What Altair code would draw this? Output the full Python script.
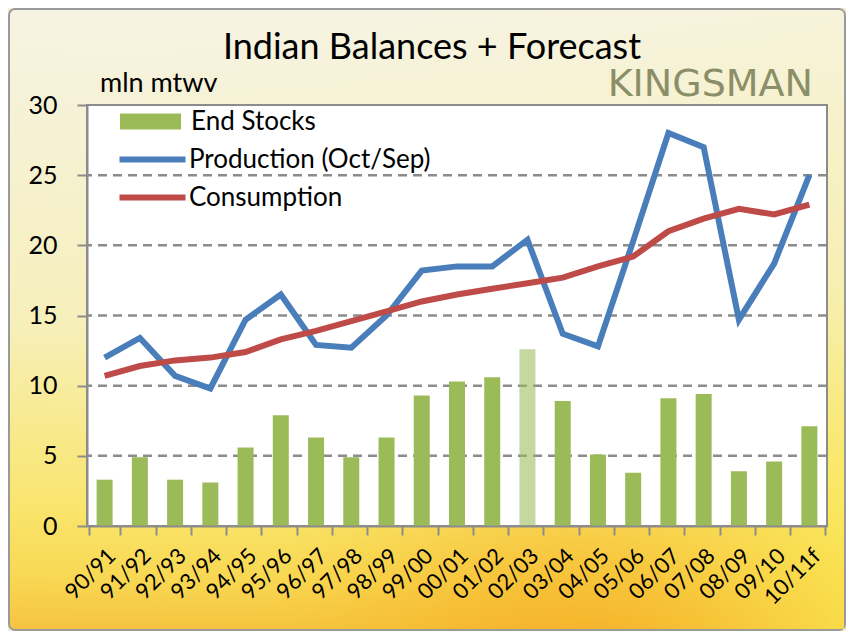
import altair as alt
import pandas as pd

seasons = ["90/91", "91/92", "92/93", "93/94", "94/95", "95/96", "96/97", "97/98",
           "98/99", "99/00", "00/01", "01/02", "02/03", "03/04", "04/05", "05/06",
           "06/07", "07/08", "08/09", "09/10", "10/11f"]
end_stocks = [3.3, 4.9, 3.3, 3.1, 5.6, 7.9, 6.3, 4.9, 6.3, 9.3, 10.3, 10.6, 12.6,
              8.9, 5.1, 3.8, 9.1, 9.4, 3.9, 4.6, 7.1]
production = [12.0, 13.4, 10.7, 9.8, 14.7, 16.5, 12.9, 12.7, 15.0, 18.2, 18.5, 18.5,
              20.4, 13.7, 12.8, 20.3, 28.0, 27.0, 14.7, 18.7, 25.0]
consumption = [10.7, 11.4, 11.8, 12.0, 12.4, 13.3, 13.9, 14.6, 15.3, 16.0, 16.5, 16.9,
               17.3, 17.7, 18.5, 19.2, 21.0, 21.9, 22.6, 22.2, 22.9]
bar_series = ["End Stocks"]
bar_colors = ["#9bbb59"]
line_series = ["Production (Oct/Sep)", "Consumption"]
line_colors = ["#4a7ebb", "#be4b48"]
highlight_season = "02/03"
y_ticks = [0, 5, 10, 15, 20, 25, 30]
grid_values = [5, 10, 15, 20, 25]

W, H = 740, 421
PL, PT, PR, PB = 79, 97, 19, 105

bars_df = pd.DataFrame({"season": seasons, "value": end_stocks, "series": bar_series[0]})
lines_df = pd.concat([
    pd.DataFrame({"season": seasons, "value": production, "series": line_series[0]}),
    pd.DataFrame({"season": seasons, "value": consumption, "series": line_series[1]}),
])
grid_df = pd.DataFrame({"g": grid_values})

FONT = "Lato"
GRAY = "#8c8c8c"

yscale = alt.Scale(domain=[0, 30], nice=False, zero=True)

xaxis = alt.Axis(title=None, labelAngle=-45, labelFontSize=22, labelFont=FONT,
                 labelColor="black", tickBand="extent", tickSize=9, tickWidth=2,
                 tickColor=GRAY, domainColor=GRAY, domainWidth=2, labelPadding=10,
                 zindex=1, grid=False)
yaxis = alt.Axis(title=None, values=y_ticks, labelFontSize=25, labelFont=FONT,
                 labelColor="black", tickSize=10, tickWidth=2, tickColor=GRAY,
                 domainColor=GRAY, domainWidth=2, labelPadding=20, zindex=1, grid=False)

common_leg = dict(title=None, orient="none", labelFontSize=26,
                  labelFont=FONT, labelColor="black", labelLimit=500)
bar_legend = alt.Legend(legendX=30, legendY=-17, labelOffset=7, symbolSize=4400,
                        symbolType="M-0.92,-0.24H0.92V0.24H-0.92Z",
                        symbolStrokeWidth=0, **common_leg)
line_legend = alt.Legend(legendX=46, legendY=35, labelOffset=17, symbolSize=1089,
                         symbolType="M-2,0H2", rowPadding=5,
                         symbolStrokeWidth=6, **common_leg)

bg_vertical = alt.Gradient(
    gradient="linear", x1=0, y1=0, x2=0, y2=1,
    stops=[
        alt.GradientStop(offset=0, color="#f6f3e3"),
        alt.GradientStop(offset=0.5, color="#f6efbb"),
        alt.GradientStop(offset=0.8, color="#f9e468"),
        alt.GradientStop(offset=0.92, color="#f8d44a"),
        alt.GradientStop(offset=1, color="#f5bd36"),
    ],
)
bg_side = alt.Gradient(
    gradient="linear", x1=0, y1=0, x2=1, y2=1,
    stops=[
        alt.GradientStop(offset=0, color="rgba(255,255,255,0)"),
        alt.GradientStop(offset=0.7, color="rgba(250,236,110,0.15)"),
        alt.GradientStop(offset=1, color="rgba(250,232,80,0.8)"),
    ],
)
bg_sun = alt.Gradient(
    gradient="radial", x1=0.68, y1=1.0, x2=0.68, y2=1.0, r1=0, r2=0.42,
    stops=[
        alt.GradientStop(offset=0, color="rgba(243,150,20,0.85)"),
        alt.GradientStop(offset=0.5, color="rgba(245,170,30,0.45)"),
        alt.GradientStop(offset=1, color="rgba(248,200,60,0)"),
    ],
)

one = alt.Data(values=[{}])

background = alt.Chart(one).mark_rect(
    clip=False, fill=bg_vertical, stroke="#9a9a9a", strokeWidth=2, cornerRadius=6
).encode(x=alt.value(-PL + 1), x2=alt.value(W + PR - 1),
         y=alt.value(-PT + 1), y2=alt.value(H + PB - 1))

side_glow = alt.Chart(one).mark_rect(clip=False, fill=bg_side).encode(
    x=alt.value(-PL + 2), x2=alt.value(W + PR - 2),
    y=alt.value(-PT + 2), y2=alt.value(H + PB - 2))

sun_glow = alt.Chart(one).mark_rect(clip=False, fill=bg_sun).encode(
    x=alt.value(-PL + 2), x2=alt.value(W + PR - 2),
    y=alt.value(-PT + 2), y2=alt.value(H + PB - 2))

plot_bg = alt.Chart(one).mark_rect(fill="white", stroke=GRAY, strokeWidth=2).encode(
    x=alt.value(0), x2=alt.value(W), y=alt.value(0), y2=alt.value(H))

grid = alt.Chart(grid_df).mark_rule(color=GRAY, strokeWidth=2.5, strokeDash=[9, 6]).encode(
    y=alt.Y("g:Q", scale=yscale, axis=yaxis))

bars = alt.Chart(bars_df).mark_bar(size=16).encode(
    x=alt.X("season:N", sort=seasons, axis=xaxis),
    y=alt.Y("value:Q", scale=yscale, axis=yaxis),
    fill=alt.Fill("series:N", scale=alt.Scale(domain=bar_series, range=bar_colors),
                  legend=bar_legend),
    opacity=alt.condition(alt.datum.season == highlight_season, alt.value(0.58), alt.value(1.0)),
)

lines = alt.Chart(lines_df).mark_line(strokeWidth=6, strokeJoin="miter").encode(
    x=alt.X("season:N", sort=seasons),
    y=alt.Y("value:Q", scale=yscale),
    stroke=alt.Stroke("series:N", scale=alt.Scale(domain=line_series, range=line_colors),
                      legend=line_legend),
)

title = alt.Chart(one).mark_text(
    text="Indian Balances + Forecast", font=FONT, fontSize=36, color="black",
    align="center", baseline="alphabetic", clip=False
).encode(x=alt.value(345), y=alt.value(-46))

unit = alt.Chart(one).mark_text(
    text="mln mtwv", font=FONT, fontSize=27, color="black",
    align="left", baseline="alphabetic", clip=False
).encode(x=alt.value(13), y=alt.value(-13))

brand = alt.Chart(one).mark_text(
    text="KINGSMAN", font="DejaVu Sans", fontSize=38, color="#8b8f68",
    align="right", baseline="alphabetic", clip=False
).encode(x=alt.value(726), y=alt.value(-9))

chart = alt.layer(background, side_glow, sun_glow, plot_bg, grid, bars, lines,
                  title, unit, brand).properties(
    width=W, height=H,
    autosize=alt.AutoSizeParams(type="none"),
    padding={"left": PL, "top": PT, "right": PR, "bottom": PB},
).configure_view(stroke=None).configure(background="#f2eed8")

chart.save("out.html", embed_options={"renderer": "svg", "actions": False})
